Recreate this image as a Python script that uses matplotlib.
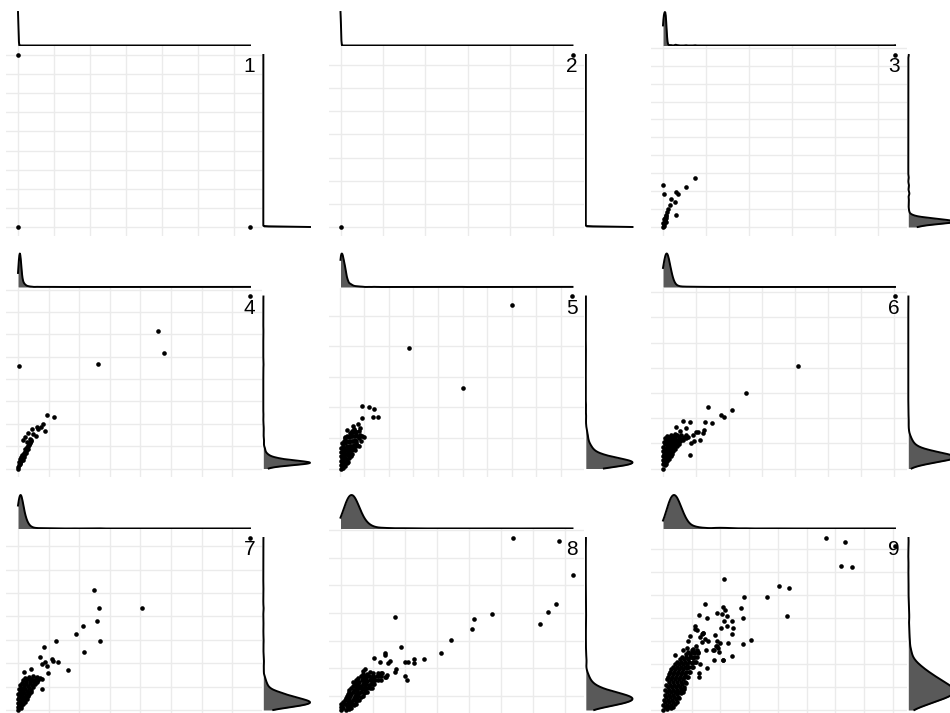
import numpy as np
import matplotlib
matplotlib.use("Agg")
import matplotlib.pyplot as plt
from matplotlib.ticker import MultipleLocator

# ---------------------------------------------------------------------------
# Data: for every panel a dense core (positions with multiplicities) and the
# individually visible points (each counted once). Units are grid steps.
# ---------------------------------------------------------------------------
labels = ["1", "2", "3", "4", "5", "6", "7", "8", "9"]

# panel 1
cx1 = [0.00]
cy1 = [0.00]
cn1 = [1000]
px1 = [0.00, 6.44]
py1 = [9.00, 0.00]

# panel 2
cx2 = [0.00]
cy2 = [0.00]
cn2 = [1000]
px2 = [5.46]
py2 = [7.43]

# panel 3
cx3 = [0.00, 0.02, 0.05, 0.05, 0.07, 0.09, 0.12, 0.00, 0.02, 0.07, 0.02, 0.07,
       0.04, 0.06]
cy3 = [0.00, 0.17, 0.34, 0.50, 0.67, 0.84, 1.01, 0.22, 0.45, 0.28, 0.06, 0.50,
       0.40, 0.60]
cn3 = [10, 30, 40, 10, 4, 2, 1, 20, 20, 40, 10, 8,
       15, 5]
px3 = [0.74, 0.53, 0.00, 0.02, 0.35, 0.30, 0.19, 0.28, 0.16, 0.30, 5.40]
py3 = [2.74, 2.23, 2.35, 1.84, 1.84, 1.96, 1.56, 1.40, 1.23, 0.67, 9.60]

# panel 4
cx4 = [0.00, 0.03, 0.07, 0.03, 0.10, 0.07, 0.13, 0.16, 0.10, 0.16, 0.20, 0.13,
       0.20, 0.23, 0.26, 0.26, 0.23, 0.29, 0.33, 0.33, 0.36, 0.39, 0.42,
       0.00, 0.05, 0.08, 0.12, 0.18, 0.21, 0.25, 0.28, 0.31, 0.35, 0.38, 0.41]
cy4 = [0.00, 0.14, 0.23, 0.27, 0.32, 0.41, 0.41, 0.36, 0.50, 0.55, 0.50, 0.59,
       0.64, 0.73, 0.68, 0.82, 0.86, 0.91, 0.86, 1.00, 1.09, 1.18, 1.27,
       0.08, 0.18, 0.30, 0.46, 0.60, 0.70, 0.78, 0.88, 0.96, 1.05, 1.14, 1.22]
cn4 = [20, 60, 100, 100, 60, 40, 30, 15, 15, 10, 8, 8,
       6, 4, 4, 3, 3, 2, 2, 2, 1, 1, 1,
       20, 80, 70, 20, 8, 5, 3, 2, 2, 1, 1, 1]
px4 = [0.15, 0.28, 0.23, 0.34, 0.59, 0.45, 0.61, 0.88, 0.74, 0.81, 0.96, 1.18,
       0.40, 0.50, 0.66, 0.03, 2.62, 4.56, 4.78, 7.58]
py4 = [1.27, 1.20, 1.42, 1.60, 1.45, 1.77, 1.88, 1.70, 1.88, 2.00, 2.38, 2.29,
       1.30, 1.55, 1.75, 4.59, 4.67, 6.15, 5.18, 7.70]

# panel 5
cx5 = [0.04, 0.16, 0.04, 0.16, 0.29, 0.04, 0.16, 0.29, 0.37, 0.08, 0.20, 0.33,
       0.45, 0.08, 0.20, 0.33, 0.45, 0.57, 0.08, 0.20, 0.33, 0.45, 0.57, 0.69,
       0.12, 0.24, 0.37, 0.49, 0.61, 0.78, 0.24, 0.37, 0.49, 0.65, 0.82, 0.41,
       0.53, 0.69,
       0.10, 0.22, 0.10, 0.22, 0.33, 0.12, 0.24, 0.45,
       0.14, 0.27, 0.39, 0.51, 0.14, 0.27, 0.39, 0.51, 0.63,
       0.16, 0.29, 0.41, 0.53, 0.65, 0.78, 0.18, 0.31, 0.43, 0.55, 0.69, 0.86,
       0.31, 0.45, 0.57, 0.73, 0.90, 0.49, 0.61, 0.78]
cy5 = [0.00, 0.03, 0.13, 0.13, 0.17, 0.26, 0.26, 0.30, 0.33, 0.40, 0.40, 0.43,
       0.46, 0.53, 0.53, 0.56, 0.60, 0.63, 0.66, 0.66, 0.70, 0.73, 0.76, 0.83,
       0.83, 0.83, 0.86, 0.89, 0.93, 0.99, 0.99, 1.03, 1.06, 1.09, 1.09, 1.16,
       1.19, 1.19,
       0.07, 0.07, 0.20, 0.20, 0.20, 0.33, 0.33, 0.40,
       0.46, 0.46, 0.46, 0.46, 0.60, 0.60, 0.60, 0.60, 0.60,
       0.75, 0.75, 0.75, 0.75, 0.75, 0.75, 0.91, 0.91, 0.91, 0.91, 0.91, 0.91,
       1.08, 1.08, 1.08, 1.08, 1.08, 1.23, 1.23, 1.23]
cn5 = [30, 20, 80, 50, 15, 80, 50, 12, 6, 30, 20, 8,
       4, 12, 10, 6, 3, 2, 6, 6, 4, 3, 2, 1,
       3, 3, 2, 2, 1, 1, 2, 2, 1, 1, 1, 1,
       1, 1,
       50, 35, 70, 45, 12, 50, 30, 6,
       18, 14, 6, 3, 8, 6, 4, 2, 1,
       4, 4, 3, 2, 2, 1, 2, 2, 2, 1, 1, 1,
       2, 1, 1, 1, 1, 1, 1, 1]
px5 = [0.91, 1.18, 1.41, 1.35, 1.55, 0.91, 0.54, 0.84, 0.98, 0.48, 0.71, 0.23,
       0.60, 0.75, 0.30, 7.03, 2.82, 5.03, 9.47]
py5 = [2.03, 2.00, 1.94, 1.68, 1.68, 1.64, 1.39, 1.33, 1.02, 1.17, 0.76, 1.04,
       1.30, 1.45, 1.25, 5.36, 3.93, 2.63, 5.63]

# panel 6
cx6 = [0.00, 0.06, 0.03, 0.12, 0.06, 0.15, 0.24, 0.03, 0.12, 0.21, 0.30, 0.06,
       0.15, 0.24, 0.33, 0.42, 0.06, 0.15, 0.24, 0.33, 0.42, 0.52, 0.61, 0.09,
       0.18, 0.27, 0.36, 0.48, 0.64, 0.76, 0.12, 0.24, 0.36,
       0.00, 0.09, 0.00, 0.09, 0.18, 0.00, 0.09, 0.18, 0.27,
       0.00, 0.09, 0.18, 0.27, 0.36, 0.00, 0.11, 0.20, 0.29, 0.38, 0.47,
       0.03, 0.12, 0.21, 0.30, 0.39, 0.48, 0.58, 0.70,
       0.06, 0.18, 0.30, 0.42, 0.55, 0.70]
cy6 = [0.00, 0.12, 0.24, 0.28, 0.40, 0.44, 0.48, 0.56, 0.60, 0.64, 0.68, 0.76,
       0.76, 0.80, 0.84, 0.88, 0.96, 0.96, 1.00, 1.00, 1.04, 1.08, 1.12, 1.12,
       1.16, 1.20, 1.20, 1.24, 1.24, 1.24, 1.28, 1.32, 1.36,
       0.16, 0.18, 0.32, 0.34, 0.38, 0.48, 0.50, 0.54, 0.58,
       0.68, 0.68, 0.70, 0.74, 0.78, 0.86, 0.86, 0.88, 0.92, 0.94, 0.98,
       1.04, 1.06, 1.08, 1.10, 1.12, 1.14, 1.18, 1.20,
       1.22, 1.26, 1.28, 1.32, 1.32, 1.32]
cn6 = [5, 20, 30, 60, 50, 80, 40, 20, 50, 30, 15, 10,
       15, 10, 6, 4, 4, 5, 4, 3, 2, 2, 1, 2,
       2, 2, 1, 1, 1, 1, 1, 1, 1,
       25, 30, 40, 60, 50, 30, 60, 50, 25,
       12, 25, 20, 12, 6, 6, 10, 8, 5, 3, 2,
       2, 3, 3, 2, 2, 1, 1, 1,
       1, 1, 1, 1, 1, 1]
px6 = [4.08, 2.51, 1.37, 1.75, 1.85, 2.10, 1.27, 1.48, 0.60, 0.82, 1.07, 1.24,
       1.22, 1.12, 0.92, 0.82, 0.50, 0.70, 0.40, 0.95, 0.85, 1.01, 7.03]
py6 = [4.08, 3.01, 2.43, 2.12, 2.05, 2.31, 1.85, 1.79, 1.88, 1.85, 1.45, 1.52,
       1.39, 1.15, 1.32, 0.52, 1.50, 1.60, 1.65, 1.10, 1.00, 1.45, 6.83]

# panel 7
cx7 = [0.00, 0.10, 0.03, 0.16, 0.07, 0.20, 0.29, 0.03, 0.13, 0.26, 0.36, 0.07,
       0.16, 0.29, 0.42, 0.10, 0.20, 0.33, 0.46, 0.56, 0.13, 0.26, 0.39, 0.52,
       0.65, 0.78, 0.23, 0.36, 0.49,
       0.00, 0.10, 0.00, 0.10, 0.23, 0.00, 0.13, 0.23, 0.33,
       0.00, 0.10, 0.20, 0.33, 0.42, 0.03, 0.13, 0.23, 0.36, 0.49,
       0.07, 0.16, 0.26, 0.39, 0.52, 0.62, 0.16, 0.29, 0.42, 0.59, 0.72]
cy7 = [0.00, 0.09, 0.21, 0.26, 0.39, 0.43, 0.47, 0.56, 0.60, 0.64, 0.69, 0.77,
       0.77, 0.82, 0.86, 0.94, 0.99, 1.03, 1.07, 1.12, 1.16, 1.20, 1.24, 1.24,
       1.29, 1.33, 1.37, 1.42, 1.46,
       0.11, 0.19, 0.32, 0.32, 0.36, 0.47, 0.49, 0.54, 0.58,
       0.69, 0.69, 0.71, 0.75, 0.77, 0.88, 0.88, 0.90, 0.94, 0.97,
       1.07, 1.09, 1.12, 1.14, 1.18, 1.20, 1.29, 1.31, 1.33, 1.35, 1.37]
cn7 = [10, 40, 60, 50, 60, 30, 15, 30, 25, 10, 5, 10,
       8, 5, 3, 4, 4, 3, 2, 1, 2, 2, 1, 1,
       1, 1, 1, 1, 1,
       25, 50, 50, 50, 25, 25, 40, 20, 10,
       15, 20, 15, 8, 4, 6, 6, 5, 3, 2,
       3, 3, 2, 2, 1, 1, 1, 1, 1, 1, 1]
px7 = [2.49, 2.65, 4.04, 2.57, 2.11, 1.89, 2.68, 2.17, 1.24, 0.85, 1.64, 0.72,
       1.10, 1.13, 1.32, 0.88, 0.94, 0.77, 0.21, 0.44, 0.99, 0.79, 0.61, 0.50,
       7.58]
py7 = [5.13, 4.34, 4.34, 3.80, 3.58, 3.24, 2.95, 2.48, 2.95, 2.70, 1.70, 2.27,
       2.20, 2.08, 2.05, 2.03, 1.88, 1.98, 1.62, 1.77, 1.58, 0.91, 1.41, 1.27,
       7.35]

# panel 8
cx8 = [0.00, 0.16, 0.28,
       0.06, 0.19, 0.31, 0.41,
       0.09, 0.22, 0.34, 0.47,
       0.16, 0.28, 0.41, 0.53, 0.63,
       0.22, 0.34, 0.47, 0.59, 0.72,
       0.28, 0.41, 0.53, 0.66, 0.78, 0.91,
       0.38, 0.50, 0.63, 0.75, 0.88, 1.00,
       0.47, 0.59, 0.72, 0.84, 0.97, 1.09,
       0.56, 0.69, 0.81, 0.94, 1.06, 1.19,
       0.69, 0.84, 1.00, 1.16, 1.31,
       1.25, 1.38, 1.44,
       0.09, 0.22, 0.34,
       0.13, 0.25, 0.38, 0.47,
       0.13, 0.25, 0.38, 0.50, 0.59,
       0.19, 0.31, 0.44, 0.56, 0.69,
       0.25, 0.38, 0.50, 0.63, 0.75, 0.84,
       0.34, 0.47, 0.59, 0.72, 0.84, 0.97,
       0.44, 0.56, 0.69, 0.81, 0.94, 1.06,
       0.53, 0.66, 0.78, 0.91, 1.03, 1.16,
       0.63, 0.75, 0.88, 1.00, 1.13, 1.25,
       0.00, 0.03]
cy8 = [0.50, 0.50, 0.54,
       0.65, 0.65, 0.65, 0.68,
       0.79, 0.79, 0.79, 0.83,
       0.94, 0.94, 0.94, 0.97, 0.97,
       1.08, 1.08, 1.08, 1.12, 1.12,
       1.23, 1.23, 1.23, 1.27, 1.27, 1.30,
       1.38, 1.38, 1.38, 1.41, 1.41, 1.45,
       1.52, 1.52, 1.52, 1.56, 1.56, 1.59,
       1.67, 1.67, 1.67, 1.70, 1.70, 1.74,
       1.81, 1.81, 1.85, 1.85, 1.85,
       1.60, 1.70, 1.78,
       0.57, 0.57, 0.57,
       0.72, 0.72, 0.72, 0.72,
       0.86, 0.86, 0.86, 0.86, 0.86,
       1.01, 1.01, 1.01, 1.01, 1.01,
       1.16, 1.16, 1.16, 1.16, 1.16, 1.16,
       1.30, 1.30, 1.30, 1.30, 1.30, 1.30,
       1.45, 1.45, 1.45, 1.45, 1.45, 1.45,
       1.59, 1.59, 1.59, 1.59, 1.59, 1.59,
       1.74, 1.74, 1.74, 1.74, 1.74, 1.74,
       0.60, 0.70]
cn8 = [3, 3, 2,
       15, 20, 15, 10,
       35, 40, 35, 20,
       30, 40, 40, 30, 12,
       18, 28, 28, 18, 10,
       8, 12, 12, 10, 6, 3,
       4, 6, 6, 5, 4, 2,
       2, 3, 3, 3, 2, 1,
       1, 2, 2, 2, 1, 1,
       1, 1, 1, 1, 1,
       1, 1, 1,
       8, 10, 8,
       25, 30, 25, 15,
       30, 38, 38, 28, 12,
       24, 34, 34, 24, 10,
       12, 20, 20, 14, 8, 4,
       6, 9, 9, 8, 5, 2,
       3, 4, 4, 4, 3, 1,
       1, 2, 2, 2, 1, 1,
       1, 1, 1, 1, 1, 1,
       15, 15]
px8 = [5.37, 6.82, 7.24, 6.74, 6.48, 6.22, 4.74, 4.17, 4.09, 1.69, 3.44, 3.15,
       1.90, 2.62, 2.28, 2.29, 2.00, 2.10, 1.38, 1.40, 1.04, 1.23, 1.48, 1.53,
       1.74, 1.69, 2.00, 2.07, 0.70, 0.75, 0.91, 1.27, 1.43, 0.39, 0.49, 0.54,
       1.01]
py8 = [6.71, 6.59, 5.37, 4.31, 4.03, 3.61, 3.95, 3.79, 3.43, 3.86, 3.01, 2.57,
       2.77, 2.33, 2.34, 2.21, 2.22, 2.24, 2.57, 2.49, 2.37, 2.22, 2.19, 2.28,
       1.98, 1.88, 1.72, 1.60, 1.92, 1.97, 1.88, 1.82, 1.70, 1.51, 1.58, 1.33,
       1.58]

# panel 9
cx9 = [0.00, 0.14, 0.28,
       0.00, 0.14, 0.28, 0.42,
       0.03, 0.17, 0.31, 0.45, 0.56,
       0.07, 0.21, 0.35, 0.49, 0.63,
       0.07, 0.21, 0.35, 0.49, 0.63, 0.73,
       0.10, 0.24, 0.38, 0.52, 0.66, 0.80,
       0.14, 0.28, 0.42, 0.56, 0.70, 0.87,
       0.21, 0.35, 0.49, 0.63, 0.77, 0.94,
       0.28, 0.42, 0.56, 0.70, 0.84, 1.01,
       0.42, 0.56, 0.70, 0.84, 1.01, 1.11,
       0.59, 0.73, 0.87, 1.05, 1.18,
       0.80, 0.94, 1.08, 1.22,
       1.01, 1.18,
       0.07, 0.21, 0.35,
       0.07, 0.21, 0.35, 0.49,
       0.10, 0.24, 0.38, 0.52,
       0.14, 0.28, 0.42, 0.56, 0.70,
       0.17, 0.31, 0.45, 0.59, 0.73,
       0.21, 0.35, 0.49, 0.63, 0.77,
       0.17, 0.31, 0.45, 0.59, 0.73, 0.84,
       0.24, 0.38, 0.52, 0.66, 0.80, 0.91,
       0.35, 0.49, 0.63, 0.77, 0.91, 1.05,
       0.49, 0.63, 0.77, 0.91, 1.05,
       0.66, 0.80, 0.94, 1.11,
       0.87, 1.01, 1.15]
cy9 = [0.00, 0.04, 0.09,
       0.22, 0.22, 0.22, 0.27,
       0.44, 0.44, 0.44, 0.49, 0.53,
       0.66, 0.66, 0.66, 0.71, 0.75,
       0.88, 0.88, 0.88, 0.88, 0.93, 0.93,
       1.11, 1.11, 1.11, 1.11, 1.15, 1.19,
       1.33, 1.33, 1.33, 1.33, 1.37, 1.42,
       1.55, 1.55, 1.55, 1.55, 1.59, 1.64,
       1.77, 1.77, 1.77, 1.77, 1.81, 1.86,
       1.99, 1.99, 1.99, 1.99, 2.04, 2.08,
       2.21, 2.21, 2.21, 2.26, 2.30,
       2.43, 2.43, 2.48, 2.52,
       2.61, 2.61,
       0.11, 0.11, 0.11,
       0.33, 0.33, 0.33, 0.33,
       0.55, 0.55, 0.55, 0.55,
       0.77, 0.77, 0.77, 0.77, 0.77,
       1.00, 1.00, 1.00, 1.00, 1.00,
       1.22, 1.22, 1.22, 1.22, 1.22,
       1.44, 1.44, 1.44, 1.44, 1.44, 1.44,
       1.66, 1.66, 1.66, 1.66, 1.66, 1.66,
       1.88, 1.88, 1.88, 1.88, 1.88, 1.88,
       2.10, 2.10, 2.10, 2.10, 2.10,
       2.32, 2.32, 2.32, 2.32,
       2.52, 2.52, 2.52]
cn9 = [3, 4, 3,
       8, 12, 12, 6,
       12, 22, 22, 16, 6,
       14, 28, 28, 22, 8,
       10, 28, 30, 25, 12, 5,
       6, 20, 25, 20, 12, 5,
       5, 14, 18, 15, 10, 4,
       4, 10, 14, 12, 8, 3,
       3, 7, 9, 8, 5, 2,
       2, 4, 5, 5, 4, 2,
       2, 2, 3, 2, 2,
       1, 2, 2, 1,
       1, 1,
       6, 8, 6,
       10, 18, 18, 10,
       13, 25, 25, 18,
       12, 28, 30, 24, 10,
       12, 25, 28, 22, 10,
       10, 18, 22, 18, 10,
       5, 12, 16, 14, 9, 4,
       4, 8, 12, 10, 6, 3,
       3, 6, 8, 7, 5, 2,
       2, 3, 4, 3, 2,
       1, 2, 2, 1,
       1, 1, 1]
px9 = [5.68, 6.34, 6.19, 6.57, 2.13, 4.05, 4.39, 3.63, 2.82, 4.31,
       2.72, 2.78, 1.46, 1.27, 1.52, 1.87, 2.10, 2.16, 2.05, 2.24,
       2.13, 2.24, 2.01, 2.39, 2.43, 2.39, 2.27, 2.39, 2.78, 3.05,
       1.11, 1.20, 1.35, 1.40, 1.29, 1.46, 1.58, 1.50, 1.81, 1.89,
       1.99, 1.93, 1.85, 1.78, 1.96, 1.79, 2.08, 1.52, 1.27, 1.27,
       0.86, 0.42, 0.83, 1.06, 0.94, 1.15, 1.23, 1.11, 1.40, 1.35,
       1.75, 1.89, 2.10, 1.00, 1.15, 0.70, 1.30, 8.08]
py9 = [7.50, 7.31, 6.29, 6.22, 5.73, 5.41, 5.32, 4.92, 4.92, 4.08,
       4.45, 4.00, 4.62, 4.14, 3.99, 4.23, 4.48, 4.37, 4.18, 4.11,
       3.88, 3.66, 3.56, 3.88, 3.59, 3.30, 2.90, 2.34, 2.88, 3.04,
       3.66, 3.49, 3.30, 3.34, 3.18, 3.08, 3.00, 2.63, 3.25, 3.03,
       2.93, 2.71, 2.81, 2.60, 2.53, 2.19, 2.19, 1.82, 1.60, 1.45,
       3.00, 2.41, 2.71, 2.66, 3.22, 2.78, 2.49, 3.52, 3.37, 2.96,
       2.63, 2.78, 2.19, 2.30, 2.10, 2.60, 2.00, 7.15]

cores = [(cx1, cy1, cn1), (cx2, cy2, cn2), (cx3, cy3, cn3),
         (cx4, cy4, cn4), (cx5, cy5, cn5), (cx6, cy6, cn6),
         (cx7, cy7, cn7), (cx8, cy8, cn8), (cx9, cy9, cn9)]
singles = [(px1, py1), (px2, py2), (px3, py3),
           (px4, py4), (px5, py5), (px6, py6),
           (px7, py7), (px8, py8), (px9, py9)]

# kernel bandwidths of the marginal density estimates (grid-step units)
bw_x = [0.012, 0.011, 0.02, 0.03, 0.04, 0.07, 0.06, 0.14, 0.12]
bw_y = [0.017, 0.015, 0.08, 0.07, 0.08, 0.10, 0.10, 0.12, 0.16]

# ---------------------------------------------------------------------------
W, H = 950, 713
fig = plt.figure(figsize=(W / 100, H / 100), dpi=100)
fig.patch.set_facecolor("white")

GRID = "#EBEBEB"
FILL = "#595959"


def px_axes(left, top, right, bottom):
    """Axes placed by pixel edges measured from the top-left corner."""
    return fig.add_axes([left / W, 1 - bottom / H,
                         (right - left) / W, (bottom - top) / H])


def weighted_kde(v, w, h, grid):
    z = (grid[:, None] - v[None, :]) / h
    return (np.exp(-0.5 * z * z) * w[None, :]).sum(axis=1)


for i in range(9):
    r, c = divmod(i, 3)
    ox, oy = 322.5 * c, 241.5 * r

    cx, cy, cn = (np.asarray(a, float) for a in cores[i])
    sx, sy = (np.asarray(a, float) for a in singles[i])
    xs = np.concatenate([cx, sx])
    ys = np.concatenate([cy, sy])
    ws = np.concatenate([cn, np.ones_like(sx)])

    xlo, xhi = xs.min(), xs.max()
    ylo, yhi = ys.min(), ys.max()
    ex, ey = 0.05 * (xhi - xlo), 0.05 * (yhi - ylo)

    # --- scatter panel ----------------------------------------------------
    ax = px_axes(6.4 + ox, 46.4 + oy, 261.6 + ox, 235.6 + oy)
    ax.set_xlim(xlo - ex, xhi + ex)
    ax.set_ylim(ylo - ey, yhi + ey)
    ax.xaxis.set_major_locator(MultipleLocator(1))
    ax.yaxis.set_major_locator(MultipleLocator(1))
    ax.grid(True, color=GRID, linewidth=1.0)
    ax.set_axisbelow(True)
    ax.tick_params(length=0, labelbottom=False, labelleft=False)
    for sp in ax.spines.values():
        sp.set_visible(False)
    ax.set_facecolor("none")
    ax.scatter(xs, ys, s=11, c="black", linewidths=0, zorder=2)
    ax.annotate(labels[i], (xhi, yhi), xytext=(3.6, -1.8),
                textcoords="offset points", ha="right", va="top",
                fontsize=15, family="Liberation Sans", color="black",
                zorder=5)

    # --- top marginal density -------------------------------------------
    gx = np.linspace(xlo, xhi, 512)
    dx = weighted_kde(xs, ws, bw_x[i], gx)
    top = px_axes(6.4 + ox, 10 + oy, 261.6 + ox, 46.4 + oy)
    top.set_xlim(xlo - ex, xhi + ex)
    top.set_ylim(-0.027 * dx.max(), 1.06 * dx.max())
    top.fill_between(gx, 0, dx, color=FILL, linewidth=0)
    top.plot(gx, dx, color="black", linewidth=1.4, solid_joinstyle="round")
    top.axis("off")

    # --- right marginal density -----------------------------------------
    gy = np.linspace(ylo, yhi, 512)
    dy = weighted_kde(ys, ws, bw_y[i], gy)
    side = px_axes(262 + ox, 46.4 + oy, 313 + ox, 235.6 + oy)
    side.set_ylim(ylo - ey, yhi + ey)
    side.set_xlim(-0.028 * dy.max(), 1.064 * dy.max())
    side.fill_betweenx(gy, 0, dy, color=FILL, linewidth=0)
    side.plot(dy, gy, color="black", linewidth=1.4, solid_joinstyle="round")
    side.axis("off")

fig.savefig("out.png", dpi=100, facecolor="white")
